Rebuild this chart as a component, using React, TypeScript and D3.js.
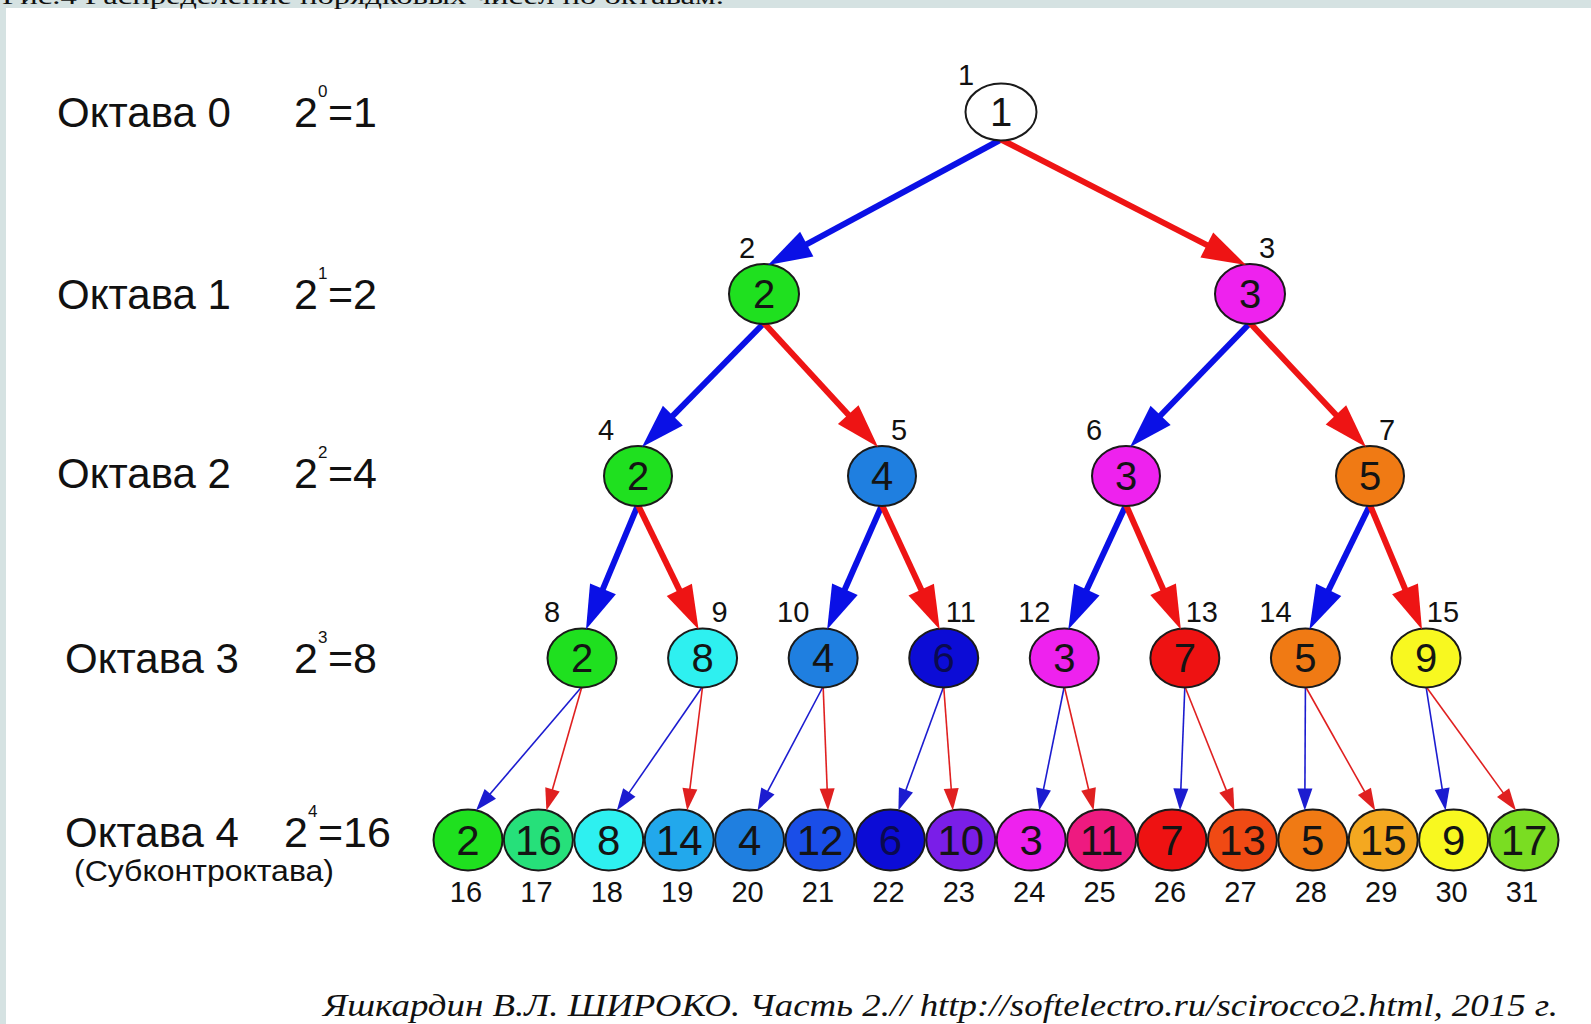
import React from "react";
import * as d3 from "d3";

const W = 1591;
const H = 1024;

// ---- data ----
const octaveNames = ["Октава 0", "Октава 1", "Октава 2", "Октава 3", "Октава 4"];
const octaveExponents = ["0", "1", "2", "3", "4"];
const octaveResults = ["1", "2", "4", "8", "16"];
const subOctaveNote = "(Субконтроктава)";

const level0Values = [1];
const level1Values = [2, 3];
const level2Values = [2, 4, 3, 5];
const level3Values = [2, 8, 4, 6, 3, 7, 5, 9];
const level4Values = [2, 16, 8, 14, 4, 12, 6, 10, 3, 11, 7, 13, 5, 15, 9, 17];

const level0Ordinals = [1];
const level1Ordinals = [2, 3];
const level2Ordinals = [4, 5, 6, 7];
const level3Ordinals = [8, 9, 10, 11, 12, 13, 14, 15];
const level4Ordinals = [16, 17, 18, 19, 20, 21, 22, 23, 24, 25, 26, 27, 28, 29, 30, 31];

const level0Colors = ["#ffffff"];
const level1Colors = ["#1fe01f", "#ee22ee"];
const level2Colors = ["#1fe01f", "#1f7fe0", "#ee22ee", "#f07a14"];
const level3Colors = ["#1fe01f", "#2ef0f0", "#1f7fe0", "#0c0cd6", "#ee22ee", "#ee1212", "#f07a14", "#f8f820"];
const level4Colors = [
  "#1fe01f", "#26e07a", "#2ef0f0", "#22a8ec", "#1f7fe0", "#1a4ee8", "#0c0cd6", "#7a1ee8",
  "#ee22ee", "#ee1a80", "#ee1212", "#f04a14", "#f07a14", "#f4a820", "#f8f820", "#7add22",
];

const captionTop = "Рис.4 Распределение порядковых чисел по октавам.";
const footerText = "Яшкардин В.Л. ШИРОКО. Часть 2.//  http://softelectro.ru/scirocco2.html, 2015 г.";

const levelValues = [level0Values, level1Values, level2Values, level3Values, level4Values];
const levelOrdinals = [level0Ordinals, level1Ordinals, level2Ordinals, level3Ordinals, level4Ordinals];
const levelColors = [level0Colors, level1Colors, level2Colors, level3Colors, level4Colors];

// ---- layout ----
const levelSpan: [number, number][] = [[1001, 1001], [764, 1250], [638, 1370], [582, 1426], [468, 1524]];
const levelR: [number, number][] = [[35.5, 28.5], [35, 30], [34, 30], [34.5, 29.5], [34.5, 30.5]];
const leftLabelDx = [0, -17, -32, -30, 0];
const yScale = d3.scalePoint<number>().domain([0, 1, 2, 3, 4]).range([112, 840]);

type Node = { level: number; i: number; x: number; y: number; rx: number; ry: number; value: number; ord: number; color: string };

const nodes: Node[][] = levelValues.map((vals, l) => {
  const xs = d3.scaleLinear().domain([0, Math.max(1, vals.length - 1)]).range(levelSpan[l]);
  return vals.map((v, i) => ({
    level: l,
    i,
    x: xs(i),
    y: yScale(l) as number,
    rx: levelR[l][0],
    ry: levelR[l][1],
    value: v,
    ord: levelOrdinals[l][i],
    color: levelColors[l][i],
  }));
});

type Edge = { x1: number; y1: number; x2: number; y2: number; color: string; thin: boolean };
const edges: Edge[] = [];
for (let l = 0; l < 4; l++) {
  nodes[l].forEach((p) => {
    [0, 1].forEach((side) => {
      const c = nodes[l + 1][p.i * 2 + side];
      const thin = l === 3;
      const off = Math.sign(p.x - c.x) * (thin ? 8 : 4);
      edges.push({
        x1: p.x,
        y1: p.y + p.ry - 1,
        x2: c.x + off,
        y2: c.y - c.ry + 1,
        color: side === 0 ? (thin ? "#1c1cd0" : "#0a10e6") : thin ? "#e02020" : "#ee1414",
        thin,
      });
    });
  });
}

function arrowGeom(e: Edge) {
  const headLen = e.thin ? 22 : 44;
  const halfW = e.thin ? 7.5 : 14;
  const dx = e.x2 - e.x1;
  const dy = e.y2 - e.y1;
  const len = Math.hypot(dx, dy);
  const ux = dx / len;
  const uy = dy / len;
  const bx = e.x2 - ux * headLen;
  const by = e.y2 - uy * headLen;
  const px = -uy;
  const py = ux;
  const head = d3.path();
  head.moveTo(e.x2, e.y2);
  head.lineTo(bx + px * halfW, by + py * halfW);
  head.lineTo(bx - px * halfW, by - py * halfW);
  head.closePath();
  return { lx2: bx + ux * 3, ly2: by + uy * 3, head: head.toString() };
}

const SANS = "'Liberation Sans', Arial, 'DejaVu Sans', sans-serif";
const SERIF = "'Liberation Serif', 'DejaVu Serif', serif";

export default function App() {
  return (
    <svg
      width={W}
      height={H}
      viewBox={`0 0 ${W} ${H}`}
      style={{ position: "absolute", left: 0, top: 0, background: "#ffffff" }}
    >
      <rect x={0} y={0} width={W} height={H} fill="#ffffff" />
      <rect x={0} y={0} width={W} height={8} fill="#d5e2e2" />
      <rect x={0} y={0} width={6} height={H} fill="#d5e2e2" />
      <text x={2} y={4} fontFamily={SERIF} fontSize={24} fill="#111" textLength={722} lengthAdjust="spacingAndGlyphs">
        {captionTop}
      </text>

      {/* octave labels */}
      {octaveNames.map((name, l) => {
        const cy = (yScale(l) as number) - (l === 4 ? 8 : 0) + (l === 2 ? -3 : 0);
        const base = cy + 15;
        const x2 = octaveResults[l].length > 1 ? 284 : 294;
        return (
          <g key={name} fontFamily={SANS} fill="#111">
            <text x={l >= 3 ? 65 : 57} y={base} fontSize={42}>
              {name}
            </text>
            <text x={x2} y={base} fontSize={43}>
              2
            </text>
            <text x={x2 + 24} y={base - 30} fontSize={17}>
              {octaveExponents[l]}
            </text>
            <text x={x2 + 34} y={base} fontSize={43}>
              {"=" + octaveResults[l]}
            </text>
          </g>
        );
      })}
      <text x={74} y={881} fontFamily={SANS} fontSize={29} fill="#111" textLength={260} lengthAdjust="spacingAndGlyphs">
        {subOctaveNote}
      </text>

      {/* edges */}
      {edges.map((e, k) => {
        const g = arrowGeom(e);
        return (
          <line
            key={"l" + k}
            x1={e.x1}
            y1={e.y1}
            x2={g.lx2}
            y2={g.ly2}
            stroke={e.color}
            strokeWidth={e.thin ? 1.6 : 6}
          />
        );
      })}

      {/* nodes */}
      {nodes.flat().map((n) => {
        const fs = n.level === 4 ? 42 : 40;
        const dark = n.color === "#0c0cd6";
        return (
          <g key={"n" + n.ord}>
            <ellipse cx={n.x} cy={n.y} rx={n.rx} ry={n.ry} fill={n.color} stroke="#1a1a1a" strokeWidth={2} />
            <text
              x={n.x}
              y={n.y + fs * 0.36}
              textAnchor="middle"
              fontFamily={SANS}
              fontSize={fs}
              fill={dark ? "#0a0a50" : "#141414"}
            >
              {n.value}
            </text>
          </g>
        );
      })}

      {/* arrow heads */}
      {edges.map((e, k) => {
        const g = arrowGeom(e);
        return <path key={"h" + k} d={g.head} fill={e.color} />;
      })}

      {/* ordinal labels */}
      {nodes.flat().map((n) => {
        let lx: number;
        let ly: number;
        if (n.level === 4) {
          lx = n.x - 2;
          ly = n.y + n.ry + 31;
        } else if (n.level === 0) {
          lx = n.x - 35;
          ly = n.y - 37 + 10;
        } else {
          lx = n.i % 2 === 0 ? n.x + leftLabelDx[n.level] : n.x + 17;
          ly = n.y - 46 + 10;
        }
        return (
          <text key={"o" + n.ord} x={lx} y={ly} textAnchor="middle" fontFamily={SANS} fontSize={29} fill="#111">
            {n.ord}
          </text>
        );
      })}

      <text
        x={1558}
        y={1016}
        textAnchor="end"
        fontFamily={SERIF}
        fontStyle="italic"
        fontSize={31}
        fill="#111"
        textLength={1235}
        lengthAdjust="spacingAndGlyphs"
      >
        {footerText}
      </text>
    </svg>
  );
}
